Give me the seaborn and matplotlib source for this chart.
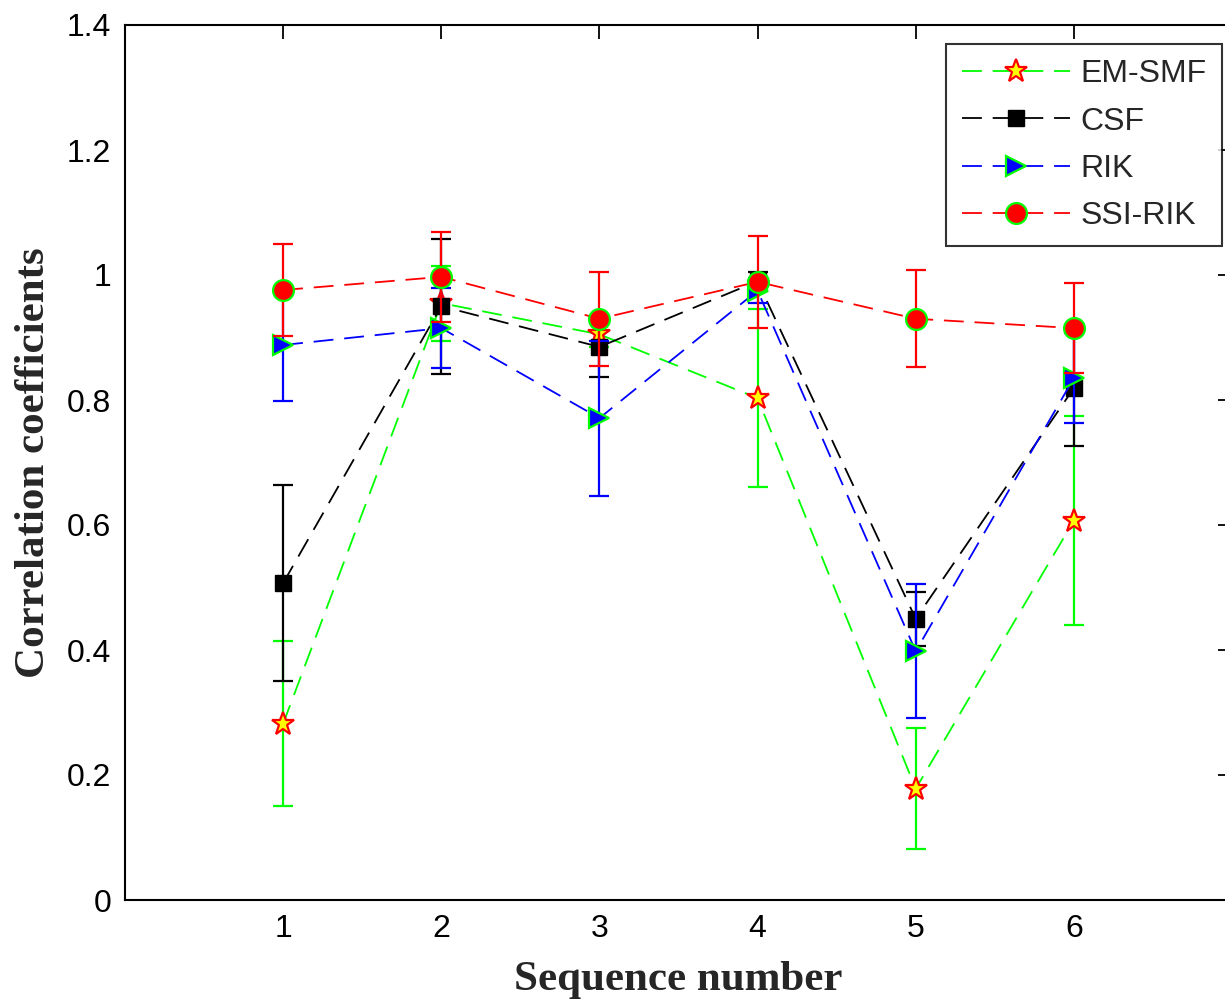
import numpy as np
import pandas as pd
import matplotlib
matplotlib.use("Agg")
import matplotlib.pyplot as plt
import seaborn as sns
from matplotlib.lines import Line2D

# ---- data ----
seq = [1, 2, 3, 4, 5, 6]
methods = ["EM-SMF", "CSF", "RIK", "SSI-RIK"]
em_smf = [0.282, 0.955, 0.905, 0.803, 0.178, 0.607]
em_smf_err = [0.132, 0.060, 0.020, 0.143, 0.097, 0.167]
csf = [0.507, 0.950, 0.885, 0.990, 0.450, 0.819]
csf_err = [0.157, 0.108, 0.048, 0.015, 0.043, 0.093]
rik = [0.888, 0.915, 0.771, 0.975, 0.398, 0.835]
rik_err = [0.090, 0.064, 0.124, 0.020, 0.107, 0.072]
ssi_rik = [0.976, 0.997, 0.930, 0.989, 0.930, 0.915]
ssi_rik_err = [0.074, 0.072, 0.075, 0.074, 0.078, 0.072]
x_ticks = [1, 2, 3, 4, 5, 6]
y_ticks = [0, 0.2, 0.4, 0.6, 0.8, 1.0, 1.2, 1.4]
y_ticklabels = ["0", "0.2", "0.4", "0.6", "0.8", "1", "1.2", "1.4"]

means = {"EM-SMF": em_smf, "CSF": csf, "RIK": rik, "SSI-RIK": ssi_rik}
errs = {"EM-SMF": em_smf_err, "CSF": csf_err, "RIK": rik_err, "SSI-RIK": ssi_rik_err}

rows = []
for m in methods:
    for s, v, e in zip(seq, means[m], errs[m]):
        rows.append({"seq": s, "value": v, "err": e, "method": m})
df = pd.DataFrame(rows)

styles = {
    "EM-SMF": dict(color=(0, 1, 0), marker="*", mfc=(1, 1, 0), mec=(1, 0, 0), ms=17, mew=1.6),
    "CSF": dict(color=(0, 0, 0), marker="s", mfc=(0, 0, 0), mec=(0, 0, 0), ms=12, mew=1.0),
    "RIK": dict(color=(0, 0, 1), marker=">", mfc=(0, 0, 1), mec=(0, 1, 0), ms=15, mew=1.6),
    "SSI-RIK": dict(color=(1, 0, 0), marker="o", mfc=(1, 0, 0), mec=(0, 1, 0), ms=15, mew=1.6),
}

sns.set_theme(style="white")
plt.rcParams["font.family"] = ["Liberation Sans", "DejaVu Sans"]

fig = plt.figure(figsize=(12.25, 10.05), dpi=100)
ax = fig.add_axes([125 / 1225, 105 / 1005, 1107 / 1225, 875 / 1005])

dash = (11, 6)
for i, m in enumerate(methods):
    st = styles[m]
    sub = df[df["method"] == m]
    z = 3 + 2 * i
    ax.errorbar(sub["seq"], sub["value"], yerr=sub["err"], fmt="none",
                ecolor=st["color"], elinewidth=1.6, capsize=7, capthick=1.6, zorder=z)
    sns.lineplot(data=sub, x="seq", y="value", ax=ax, color=st["color"],
                 linewidth=1.3, dashes=False, zorder=z + 1, legend=False)
    ax.lines[-1].set_dashes(dash)
    ax.plot(sub["seq"], sub["value"], linestyle="none", marker=st["marker"],
            markerfacecolor=st["mfc"], markeredgecolor=st["mec"],
            markersize=st["ms"], markeredgewidth=st["mew"], zorder=z + 1)

ax.set_xlim(0, 7)
ax.set_ylim(0, 1.4)
ax.set_xticks(x_ticks)
ax.set_xticklabels([str(t) for t in x_ticks])
ax.set_yticks(y_ticks)
ax.set_yticklabels(y_ticklabels)
ax.tick_params(axis="both", which="both", direction="in", length=10, width=1.3,
               top=True, right=True, labelsize=23, colors="black", pad=10)
for sp in ax.spines.values():
    sp.set_color("black")
    sp.set_linewidth(1.5)
ax.grid(False)

serif = ["Liberation Serif", "DejaVu Serif"]
ax.set_xlabel("Sequence number", fontsize=31, fontweight="bold", family=serif,
              labelpad=12)
ax.set_ylabel("Correlation coefficients", fontsize=31, fontweight="bold",
              family=serif, labelpad=10)

handles = []
for m in methods:
    st = styles[m]
    handles.append(Line2D([0], [0], color=st["color"], linestyle=(0, dash), linewidth=1.3,
                          marker=st["marker"], markerfacecolor=st["mfc"],
                          markeredgecolor=st["mec"], markersize=st["ms"],
                          markeredgewidth=st["mew"]))
leg = ax.legend(handles, methods, loc="upper right",
                bbox_to_anchor=((1222 - 125) / 1107, 1 - (44 - 25) / 875),
                fontsize=23, frameon=True, fancybox=False, edgecolor="black",
                handlelength=3.4, handletextpad=0.32, labelspacing=0.54,
                borderpad=0.48, borderaxespad=0)
leg.get_frame().set_linewidth(1.5)

fig.savefig("out.png", dpi=100)
